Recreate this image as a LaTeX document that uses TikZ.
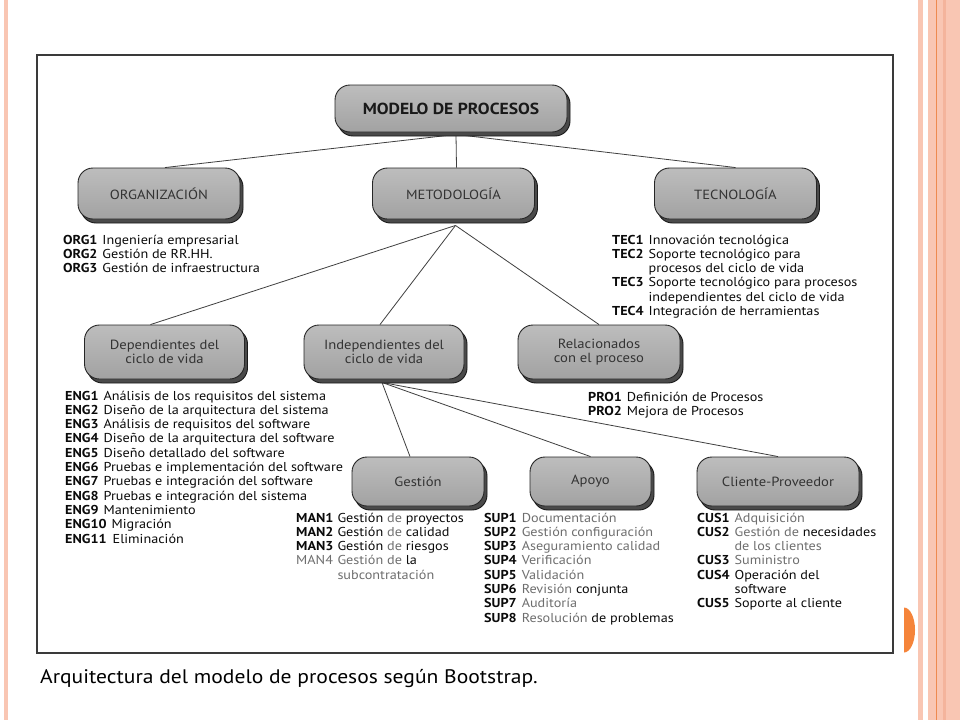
\documentclass[tikz,border=0pt]{standalone}
\usepackage{fontspec}
\setmainfont{PT Sans}[FakeStretch=1.1]
\usetikzlibrary{shadows,calc,backgrounds}
\definecolor{salmon}{HTML}{F9C6B3}
\definecolor{salmondark}{HTML}{F4B49C}
\definecolor{orangeline}{HTML}{EE8A50}
\definecolor{dotorange}{HTML}{F5843A}
\definecolor{boxtop}{HTML}{BDBDBD}
\definecolor{boxbot}{HTML}{A2A2A2}
\definecolor{boxshadow}{HTML}{4A4A4A}
\definecolor{frameline}{HTML}{3A3A3A}
\definecolor{labeltxt}{HTML}{333333}
\definecolor{txt}{HTML}{0A0A0A}
\definecolor{lite}{HTML}{6E6E6E}
\newcommand{\lt}[1]{\textcolor{lite}{#1}}
\tikzset{
  procbox/.style={draw=black!85, line width=0.9pt, rounded corners=15pt,
    top color=boxtop, bottom color=boxbot, inner sep=0pt, align=center,
    text=labeltxt, font=\fontsize{13.3}{14.5}\selectfont,
    drop shadow={shadow xshift=3pt, shadow yshift=-4pt, fill=boxshadow,
      draw=black!90, opacity=1}},
  lst/.style={inner sep=0pt, anchor=base west, text=txt,
    font=\fontsize{12.9}{14.3}\selectfont},
  conn/.style={draw=black!75, line width=0.8pt},
}
\begin{document}
\begin{tikzpicture}[x=1pt,y=-1pt]
\useasboundingbox (0,0) rectangle (960,720);
% slide decorations
\fill[salmon] (4,0) rectangle (8,720);
\fill[salmon] (918,0) rectangle (923,720);
\fill[salmon] (928,0) rectangle (960,720);
\fill[salmondark] (943,0) rectangle (946,720);
\draw[orangeline, line width=1.2pt] (936.5,0) -- (936.5,720);
\begin{scope}
\clip (904,600) rectangle (920,660);
\fill[dotorange] (904,630) ellipse[x radius=11, y radius=22.5];
\end{scope}
% frame
\draw[frameline, line width=1.3pt] (37,55) rectangle (893,653);
\draw[frameline, line width=2.2pt] (37,55) -- (893,55);

% boxes
\node[procbox, minimum width=232pt, minimum height=47pt,
  font=\bfseries\fontsize{16}{17}\selectfont, text=black!90] (modelo) at (451,108.5) {MODELO DE PROCESOS};
\node[procbox, minimum width=162pt, minimum height=51pt] (org) at (159,193.5) {ORGANIZACIÓN};
\node[procbox, minimum width=162pt, minimum height=51pt] (met) at (453.5,193.5) {METODOLOGÍA};
\node[procbox, minimum width=162pt, minimum height=51pt] (tec) at (735.5,193.5) {TECNOLOGÍA};
\node[procbox, minimum width=160pt, minimum height=54pt] (dep) at (164.5,352) {Dependientes del\\ciclo de vida};
\node[procbox, minimum width=160pt, minimum height=54pt] (ind) at (384,352) {Independientes del\\ciclo de vida};
\node[procbox, minimum width=162pt, minimum height=54pt] (rel) at (599,352) {Relacionados\\con el proceso};
\node[procbox, minimum width=132pt, minimum height=49pt] (ges) at (418,481.5) {Gestión};
\node[procbox, minimum width=121pt, minimum height=49pt] (apo) at (590.5,481.5) {Apoyo};
\node[procbox, minimum width=162pt, minimum height=49pt] (cli) at (778,481.5) {Cliente-Proveedor};

% lists
\node[lst] (orglist) at (63,244) {\begin{tabular}[t]{@{}l@{\hspace{5pt}}l@{}}
\textbf{ORG1} & Ingeniería empresarial\\
\textbf{ORG2} & Gestión de RR.HH.\\
\textbf{ORG3} & Gestión de infraestructura
\end{tabular}};
\node[lst] (teclist) at (612,244) {\begin{tabular}[t]{@{}l@{\hspace{5pt}}l@{}}
\textbf{TEC1} & Innovación tecnológica\\
\textbf{TEC2} & Soporte tecnológico para\\
 & procesos del ciclo de vida\\
\textbf{TEC3} & Soporte tecnológico para procesos\\
 & independientes del ciclo de vida\\
\textbf{TEC4} & Integración de herramientas
\end{tabular}};
\node[lst] (englist) at (65,400) {\begin{tabular}[t]{@{}l@{\hspace{5pt}}l@{}}
\textbf{ENG1} & Análisis de los requisitos del sistema\\
\textbf{ENG2} & Diseño de la arquitectura del sistema\\
\textbf{ENG3} & Análisis de requisitos del software\\
\textbf{ENG4} & Diseño de la arquitectura del software\\
\textbf{ENG5} & Diseño detallado del software\\
\textbf{ENG6} & Pruebas e implementación del software\\
\textbf{ENG7} & Pruebas e integración del software\\
\textbf{ENG8} & Pruebas e integración del sistema\\
\textbf{ENG9} & Mantenimiento\\
\multicolumn{2}{@{}l@{}}{\textbf{ENG10}\hspace{5pt}Migración}\\
\multicolumn{2}{@{}l@{}}{\textbf{ENG11}\hspace{6pt}Eliminación}
\end{tabular}};
\node[lst] (prolist) at (588,401) {\begin{tabular}[t]{@{}l@{\hspace{5pt}}l@{}}
\textbf{PRO1} & Definición de Procesos\\
\textbf{PRO2} & Mejora de Procesos
\end{tabular}};
\node[lst] (manlist) at (296,522) {\begin{tabular}[t]{@{}l@{\hspace{4pt}}l@{}}
\textbf{MAN1} & Gestión \lt{de} proyectos\\
\textbf{MAN2} & Gestión \lt{de} calidad\\
\textbf{MAN3} & Gestión \lt{de} riesgos\\
\lt{MAN4} & \lt{Gestión de} la\\
 & \lt{subcontratación}
\end{tabular}};
\node[lst] (suplist) at (484,522) {\begin{tabular}[t]{@{}l@{\hspace{5pt}}l@{}}
\textbf{SUP1} & \lt{Documentación}\\
\textbf{SUP2} & \lt{Gestión configuración}\\
\textbf{SUP3} & \lt{Aseguramiento calidad}\\
\textbf{SUP4} & \lt{Verificación}\\
\textbf{SUP5} & \lt{Validación}\\
\textbf{SUP6} & \lt{Revisión} conjunta\\
\textbf{SUP7} & \lt{Auditoría}\\
\textbf{SUP8} & \lt{Resolución} de problemas
\end{tabular}};
\node[lst] (cuslist) at (697,522) {\begin{tabular}[t]{@{}l@{\hspace{5pt}}l@{}}
\textbf{CUS1} & \lt{Adquisición}\\
\textbf{CUS2} & \lt{Gestión de} necesidades\\
 & \lt{de los clientes}\\
\textbf{CUS3} & \lt{Suministro}\\
\textbf{CUS4} & Operación del\\
 & software\\
\textbf{CUS5} & Soporte al cliente
\end{tabular}};

% caption
\node[inner sep=0pt, anchor=base west, text=black, font=\fontsize{19.6}{22}\selectfont] (caption) at (40,683) {Arquitectura del modelo de procesos según Bootstrap.};

% connectors (behind boxes)
\begin{pgfonlayer}{background}
\fill[white] (0,0) rectangle (960,720);
\coordinate (mhub) at ($(modelo.south)+(5,2)$);
\coordinate (thub) at ($(met.south)+(2,6)$);
\coordinate (ihub) at ($(ind.south)+(-2,3)$);
\draw[conn] (mhub) -- ($(org.north)+(6,0)$);
\draw[conn] (mhub) -- ($(met.north)+(3,0)$);
\draw[conn] (mhub) -- (tec.north);
\draw[conn] (thub) -- ($(dep.north)+(-14,0)$);
\draw[conn] (thub) -- ($(ind.north)+(-4,0)$);
\draw[conn] (thub) -- (rel.north);
\draw[conn] (ihub) -- ($(ges.north)+(-8,0)$);
\draw[conn] (ihub) -- (apo.north);
\draw[conn] (ihub) -- (cli.north);
\end{pgfonlayer}
\end{tikzpicture}
\end{document}
